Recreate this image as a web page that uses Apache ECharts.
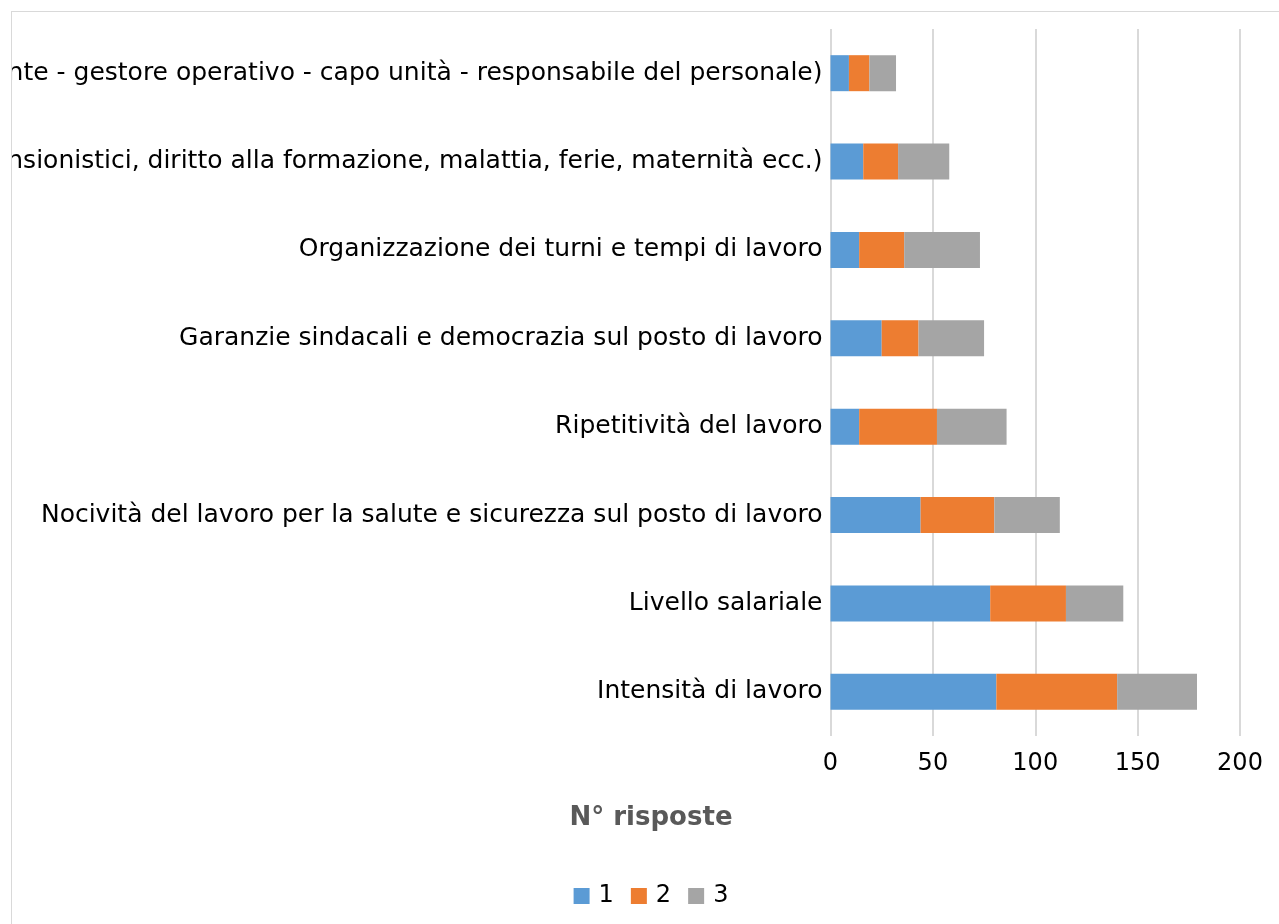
<!DOCTYPE html>
<html>
<head>
<meta charset="utf-8">
<script src="https://cdn.jsdelivr.net/npm/echarts@6/dist/echarts.min.js"></script>
<style>
html, body { margin: 0; padding: 0; overflow: hidden; background: #fff; width: 1279px; height: 924px; }
#frame { position: absolute; left: 11px; top: 11px; border-left: 1px solid #d9d9d9; border-top: 1px solid #d9d9d9; width: 1278px; height: 940px; overflow: hidden; }
#chart { width: 1278px; height: 940px; }
</style>
</head>
<body>
<div id="frame"><div id="chart"></div></div>
<script>
const categories = [
  "Rapporto con la gerarchia aziendale (dirigente - gestore operativo - capo unità - responsabile del personale)",
  "Diritti (previdenziali e pensionistici, diritto alla formazione, malattia, ferie, maternità ecc.)",
  "Organizzazione dei turni e tempi di lavoro",
  "Garanzie sindacali e democrazia sul posto di lavoro",
  "Ripetitività del lavoro",
  "Nocività del lavoro per la salute e sicurezza sul posto di lavoro",
  "Livello salariale",
  "Intensità di lavoro"
];
const series1 = [9, 16, 14, 25, 14, 44, 78, 81];
const series2 = [10, 17, 22, 18, 38, 36, 37, 59];
const series3 = [13, 25, 37, 32, 34, 32, 28, 39];
const seriesNames = ["1", "2", "3"];
const xTitle = "N° risposte";

const FONT = "DejaVu Sans";
const chart = echarts.init(document.getElementById('chart'), null, { renderer: 'canvas' });
const colors = ['#5b9bd5', '#ed7d31', '#a5a5a5'];
const values = [series1, series2, series3];

chart.setOption({
  animation: false,
  color: colors,
  textStyle: { fontFamily: FONT },
  title: {
    text: xTitle,
    left: 'center',
    top: 788,
    textStyle: { fontFamily: FONT, fontSize: 26, fontWeight: 'bold', color: '#595959' }
  },
  legend: {
    data: seriesNames,
    left: 'center',
    top: 867,
    icon: 'rect',
    itemWidth: 16,
    itemHeight: 16,
    itemGap: 17,
    textStyle: { fontFamily: FONT, fontSize: 24, color: '#000', padding: [0, 0, 0, 4] }
  },
  grid: { left: 818.5, top: 17, width: 409.5, height: 707, containLabel: false, outerBoundsMode: 'none' },
  xAxis: {
    type: 'value',
    min: 0, max: 200, interval: 50,
    axisLine: { show: false },
    axisTick: { show: false },
    axisLabel: { fontFamily: FONT, fontSize: 24, color: '#000', margin: 16 },
    splitLine: { show: true, lineStyle: { color: '#d9d9d9', width: 2 } }
  },
  yAxis: {
    type: 'category',
    data: categories,
    inverse: true,
    axisLine: { show: false },
    axisTick: { show: false },
    axisLabel: { fontFamily: FONT, fontSize: 25, color: '#000', margin: 8 },
    splitLine: { show: false }
  },
  series: seriesNames.map((n, i) => ({
    name: n,
    type: 'bar',
    stack: 'total',
    barWidth: 36,
    data: values[i]
  }))
});
</script>
</body>
</html>
